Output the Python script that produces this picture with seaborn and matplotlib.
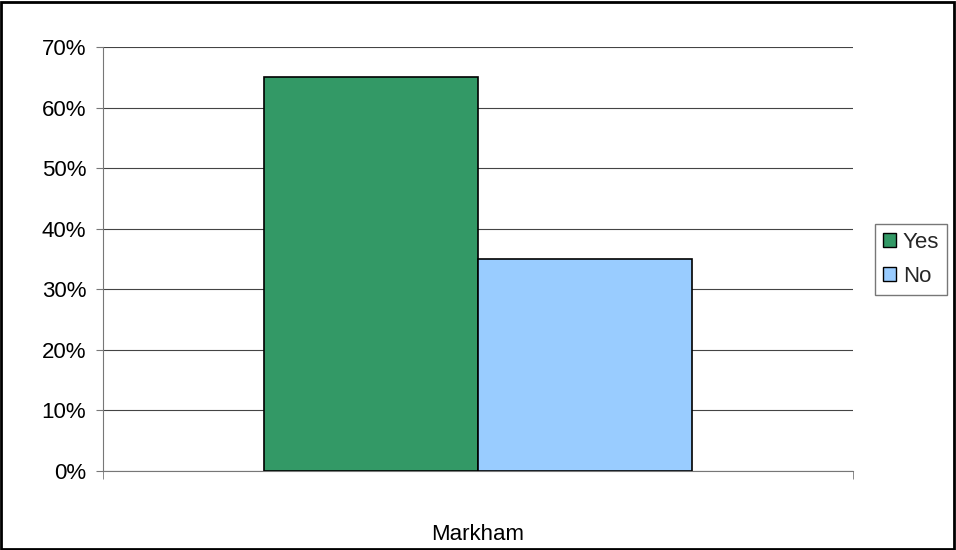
import matplotlib
matplotlib.use("Agg")
import matplotlib.pyplot as plt
import matplotlib.patches as mpatches
import pandas as pd
import seaborn as sns
from matplotlib.ticker import PercentFormatter

categories = ["Markham", "Markham"]
answers = ["Yes", "No"]
shares = [0.65, 0.35]
colors = {"Yes": "#339966", "No": "#99CCFF"}

df = pd.DataFrame({"city": categories, "answer": answers, "share": shares})

sns.set_style("white")
plt.rcParams['font.family'] = ['Liberation Sans', 'DejaVu Sans']
plt.rcParams['font.size'] = 16

fig = plt.figure(figsize=(9.56, 5.5), dpi=100)
ax = fig.add_axes([103 / 956, 1 - 471 / 550, 750 / 956, 424 / 550])

sns.barplot(data=df, x="city", y="share", hue="answer", palette=colors,
            width=0.571, gap=0, edgecolor="black", linewidth=1.2,
            saturation=1, legend=False, ax=ax, zorder=3)

ax.set_ylim(0, 0.7)
ax.set_xlim(-0.5, 0.5)
ax.yaxis.set_major_formatter(PercentFormatter(1.0, decimals=0))
ax.set_yticks([i / 10 for i in range(8)])
ax.yaxis.grid(True, color="#444444", linewidth=0.8, zorder=0)
ax.set_axisbelow(True)
ax.set_xlabel("")
ax.set_ylabel("")

for side in ["top", "right"]:
    ax.spines[side].set_visible(False)
ax.spines["left"].set_color("#777777")
ax.spines["bottom"].set_color("#777777")

ax.tick_params(axis="y", direction="out", length=5, color="#777777",
               left=True, labelsize=16, labelcolor="black", pad=7)
ax.set_xticks([0])
ax.tick_params(axis="x", length=0, labelsize=16, labelcolor="black", pad=38)
ax.set_xticks([-0.5, 0.5], minor=True)
ax.tick_params(axis="x", which="minor", direction="out", length=6,
               color="#777777", bottom=True)

handles = [mpatches.Patch(facecolor=colors[a], edgecolor="black", label=a)
           for a in ["Yes", "No"]]
fig.legend(handles=handles, loc="upper left",
           bbox_to_anchor=(875 / 956, 1 - 224 / 550), frameon=True,
           fancybox=False, edgecolor="#555555", handlelength=0.6,
           handleheight=0.6, handletextpad=0.3, borderpad=0.35,
           labelspacing=0.6, fontsize=16, borderaxespad=0)

fig.patches.append(mpatches.Rectangle((0.001, 0.002), 0.997, 0.995,
                                      transform=fig.transFigure, fill=False,
                                      edgecolor="black", linewidth=2))

fig.savefig("out.png", dpi=100)
